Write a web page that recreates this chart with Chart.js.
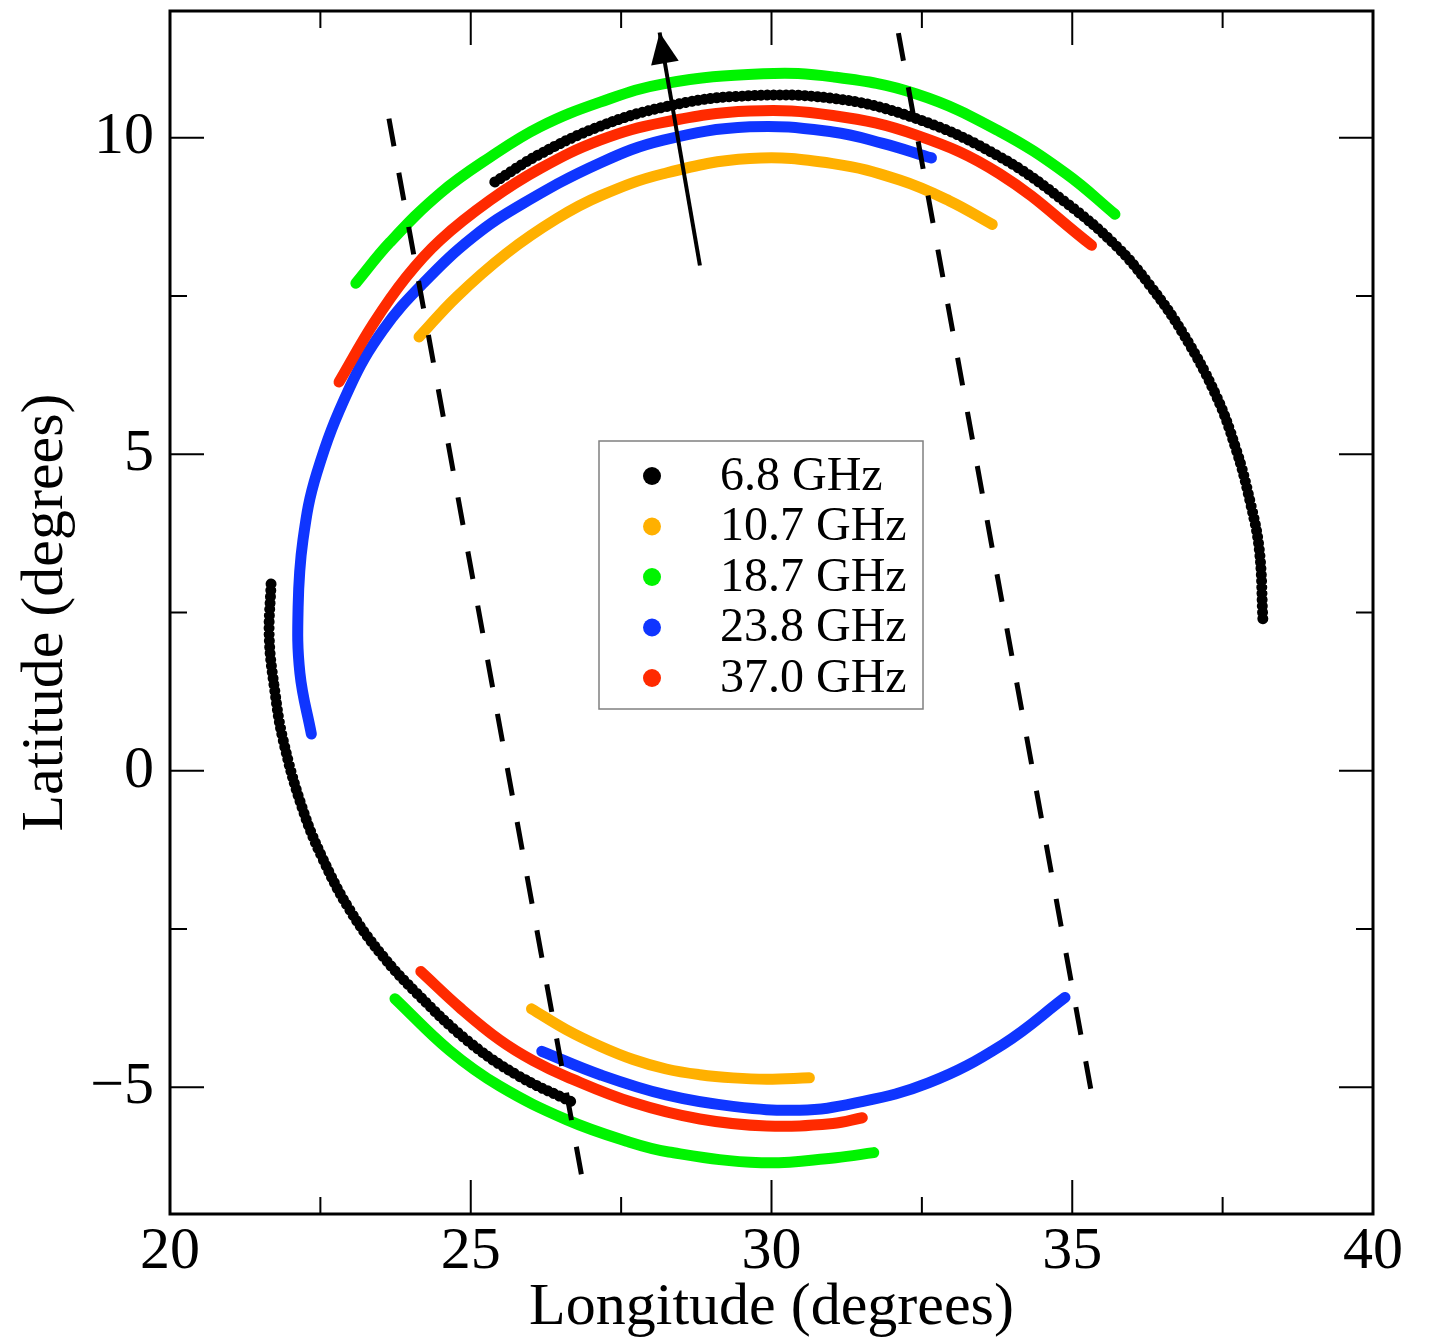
<!DOCTYPE html>
<html>
<head>
<meta charset="utf-8">
<script src="https://cdn.jsdelivr.net/npm/chart.js@4.4.1/dist/chart.umd.min.js"></script>
<style>
  html, body { margin: 0; padding: 0; background: #fff; }
  #wrap { width: 1433px; height: 1344px; }
</style>
</head>
<body>
<div id="wrap"><canvas id="scan" width="1433" height="1344"></canvas></div>
<script>
// axis ticks (labels only on multiples of 5)
const xTickValues = [20, 22.5, 25, 27.5, 30, 32.5, 35, 37.5, 40];
const yTickValues = [-5, -2.5, 0, 2.5, 5, 7.5, 10];

const bandLabels = ['6.8 GHz', '10.7 GHz', '18.7 GHz', '23.8 GHz', '37.0 GHz'];

// footprint arcs per band, [longitude, latitude] in degrees
const arc68North = [[25.40, 9.30], [26.15, 9.74], [27.15, 10.18], [28.20, 10.48], [29.40, 10.65], [31.02, 10.62],
  [32.41, 10.30], [33.79, 9.70], [34.90, 8.97], [35.73, 8.29], [36.28, 7.68], [36.84, 6.91], [37.39, 5.93],
  [37.73, 5.06], [37.95, 4.28], [38.11, 3.49], [38.17, 2.37]];
const arc68South = [[21.68, 2.95], [21.65, 2.10], [21.74, 1.28], [21.88, 0.49], [22.21, -0.62], [22.55, -1.41],
  [22.99, -2.20], [23.54, -2.93], [24.10, -3.51], [24.93, -4.25], [25.76, -4.80], [26.70, -5.24]];

const arc107North = [[24.14, 6.85], [24.76, 7.48], [25.59, 8.17], [26.43, 8.72], [27.15, 9.08], [28.20, 9.43],
  [29.64, 9.67], [31.02, 9.59], [32.13, 9.33], [32.96, 9.00], [33.67, 8.63]];
const arc107South = [[26.01, -3.76], [26.59, -4.09], [27.15, -4.35], [27.70, -4.56], [28.25, -4.71],
  [28.81, -4.80], [29.36, -4.85], [29.92, -4.87], [30.63, -4.85]];

const arc187North = [[23.09, 7.70], [23.66, 8.35], [24.49, 9.12], [25.32, 9.69], [26.15, 10.17], [27.15, 10.56],
  [28.20, 10.85], [29.86, 11.01], [31.02, 10.96], [32.41, 10.69], [33.79, 10.10], [34.90, 9.43], [35.71, 8.79]];
const arc187South = [[23.74, -3.60], [24.65, -4.42], [25.48, -4.98], [26.59, -5.51], [27.59, -5.85],
  [28.29, -6.02], [29.83, -6.19], [31.07, -6.11], [31.70, -6.03]];

const arc238North = [[22.35, 0.58], [22.16, 1.54], [22.13, 2.59], [22.21, 3.64], [22.44, 4.70], [22.99, 6.06],
  [23.54, 6.96], [24.21, 7.70], [25.04, 8.43], [25.87, 8.96], [27.15, 9.60], [28.20, 9.96], [29.64, 10.17],
  [31.02, 10.09], [31.85, 9.91], [32.66, 9.68]];
const arc238South = [[26.18, -4.43], [27.15, -4.80], [28.25, -5.12], [29.36, -5.30], [30.47, -5.36],
  [31.38, -5.25], [32.61, -4.93], [33.85, -4.32], [34.88, -3.58]];

const arc370North = [[22.81, 6.14], [23.38, 7.06], [23.93, 7.80], [24.49, 8.38], [25.32, 9.01], [26.15, 9.51],
  [27.15, 9.96], [28.20, 10.24], [29.64, 10.42], [31.02, 10.35], [32.41, 10.04], [33.79, 9.43], [35.32, 8.30]];
const arc370South = [[24.17, -3.17], [24.83, -3.75], [25.48, -4.25], [26.04, -4.58], [26.59, -4.83],
  [27.70, -5.24], [28.81, -5.50], [29.92, -5.61], [31.02, -5.57], [31.51, -5.48]];

// swath edges and flight direction
const swathWest = [[23.64, 10.30], [26.90, -6.69]];
const swathEast = [[32.11, 11.65], [35.37, -5.35]];
const heading = [[28.81, 7.98], [28.14, 11.66]];

const bandColors = ['#000000', '#ffb000', '#00f400', '#0f35ff', '#ff2a00'];
const serif = '"Liberation Serif", "Times New Roman", serif';

const toXY = pts => pts.map(([x, y]) => ({ x, y }));

function arcSet(band, pts) {
  const dotted = band === 0;
  return {
    data: toXY(pts),
    borderColor: bandColors[band],
    borderWidth: 11,
    borderCapStyle: 'round',
    borderJoinStyle: 'round',
    borderDash: dotted ? [0.01, 6.3] : [],
    tension: 0.4,
    pointRadius: 0,
    fill: false
  };
}

function guideSet(pts, dash, width, extra) {
  return Object.assign({
    data: toXY(pts),
    borderColor: '#000',
    borderWidth: width,
    borderDash: dash,
    borderCapStyle: 'butt',
    tension: 0,
    pointRadius: 0,
    fill: false
  }, extra || {});
}

// first datasets are drawn on top
const datasets = [
  guideSet(heading, [], 4, { arrow: true }),
  guideSet(swathWest, [28, 27], 5),
  guideSet(swathEast, [28, 27], 5),
  arcSet(4, arc370North), arcSet(4, arc370South),
  arcSet(3, arc238North), arcSet(3, arc238South),
  arcSet(2, arc187North), arcSet(2, arc187South),
  arcSet(1, arc107North), arcSet(1, arc107South),
  arcSet(0, arc68North), arcSet(0, arc68South)
];

const arrowHead = {
  id: 'arrowHead',
  afterDatasetsDraw(chart) {
    const ctx = chart.ctx;
    chart.data.datasets.forEach((ds, i) => {
      if (!ds.arrow) return;
      const pts = chart.getDatasetMeta(i).data;
      const tail = pts[pts.length - 2], tip = pts[pts.length - 1];
      const ang = Math.atan2(tip.y - tail.y, tip.x - tail.x);
      const len = 31, half = 14;
      const bx = tip.x - Math.cos(ang) * len, by = tip.y - Math.sin(ang) * len;
      ctx.save();
      ctx.fillStyle = '#000';
      ctx.beginPath();
      ctx.moveTo(tip.x, tip.y);
      ctx.lineTo(bx - Math.sin(ang) * half, by + Math.cos(ang) * half);
      ctx.lineTo(bx + Math.sin(ang) * half, by - Math.cos(ang) * half);
      ctx.closePath();
      ctx.fill();
      ctx.restore();
    });
  }
};

// inward ticks on all four sides plus the frame
const frameTicks = {
  id: 'frameTicks',
  afterDraw(chart) {
    const { ctx, chartArea: a, scales: { x, y } } = chart;
    ctx.save();
    ctx.strokeStyle = '#000';
    ctx.lineWidth = 2;
    ctx.beginPath();
    x.ticks.forEach(t => {
      const px = x.getPixelForValue(t.value);
      const len = t.value % 5 === 0 ? 34 : 17;
      ctx.moveTo(px, a.bottom); ctx.lineTo(px, a.bottom - len);
      ctx.moveTo(px, a.top); ctx.lineTo(px, a.top + len);
    });
    y.ticks.forEach(t => {
      const py = y.getPixelForValue(t.value);
      const len = t.value % 5 === 0 ? 34 : 17;
      ctx.moveTo(a.left, py); ctx.lineTo(a.left + len, py);
      ctx.moveTo(a.right, py); ctx.lineTo(a.right - len, py);
    });
    ctx.stroke();
    ctx.lineWidth = 3;
    ctx.strokeRect(a.left, a.top, a.right - a.left, a.bottom - a.top);
    ctx.restore();
  }
};

const bandLegend = {
  id: 'bandLegend',
  afterDraw(chart) {
    const { ctx, chartArea: a } = chart;
    const x0 = a.left + 429, y0 = a.top + 430, w = 324, h = 268;
    ctx.save();
    ctx.fillStyle = '#fff';
    ctx.fillRect(x0, y0, w, h);
    ctx.strokeStyle = '#808080';
    ctx.lineWidth = 1.5;
    ctx.strokeRect(x0, y0, w, h);
    ctx.font = '48px ' + serif;
    ctx.textBaseline = 'middle';
    ctx.textAlign = 'left';
    bandLabels.forEach((label, i) => {
      const cy = y0 + 35 + i * 50.5;
      ctx.fillStyle = bandColors[i];
      ctx.beginPath();
      ctx.arc(x0 + 53, cy, 9, 0, Math.PI * 2);
      ctx.fill();
      ctx.fillStyle = '#000';
      ctx.fillText(label, x0 + 121, cy + 1);
    });
    ctx.restore();
  }
};

const tickLabel = v => (v % 5 === 0 ? (v < 0 ? '\u2212' + Math.abs(v) : String(v)) : '');

new Chart(document.getElementById('scan'), {
  type: 'line',
  data: { datasets },
  options: {
    responsive: false,
    animation: false,
    devicePixelRatio: 1,
    layout: { padding: { top: 11, right: 60, left: 0, bottom: 0 } },
    plugins: { legend: { display: false }, tooltip: { enabled: false } },
    scales: {
      x: {
        type: 'linear', min: 20, max: 40,
        grid: { display: false, drawTicks: false },
        border: { display: false },
        afterBuildTicks: s => { s.ticks = xTickValues.map(v => ({ value: v })); },
        afterFit: s => { s.height = 130; s.paddingLeft = 0; s.paddingRight = 0; },
        ticks: {
          autoSkip: false, maxRotation: 0, padding: 2, color: '#000',
          font: { family: serif, size: 60 },
          callback: tickLabel
        },
        title: {
          display: true, text: 'Longitude (degrees)', color: '#000',
          font: { family: serif, size: 60 }, padding: { top: 0, bottom: 0 }
        }
      },
      y: {
        type: 'linear', min: -7, max: 12,
        grid: { display: false, drawTicks: false },
        border: { display: false },
        afterBuildTicks: s => { s.ticks = yTickValues.map(v => ({ value: v })); },
        afterFit: s => { s.width = 170; s.paddingTop = 0; s.paddingBottom = 0; },
        ticks: {
          autoSkip: false, padding: 16, color: '#000',
          font: { family: serif, size: 60 },
          callback: tickLabel
        },
        title: {
          display: true, text: 'Latitude (degrees)', color: '#000',
          font: { family: serif, size: 60 }, padding: { top: 10, bottom: 0 }
        }
      }
    }
  },
  plugins: [arrowHead, frameTicks, bandLegend]
});
</script>
</body>
</html>
